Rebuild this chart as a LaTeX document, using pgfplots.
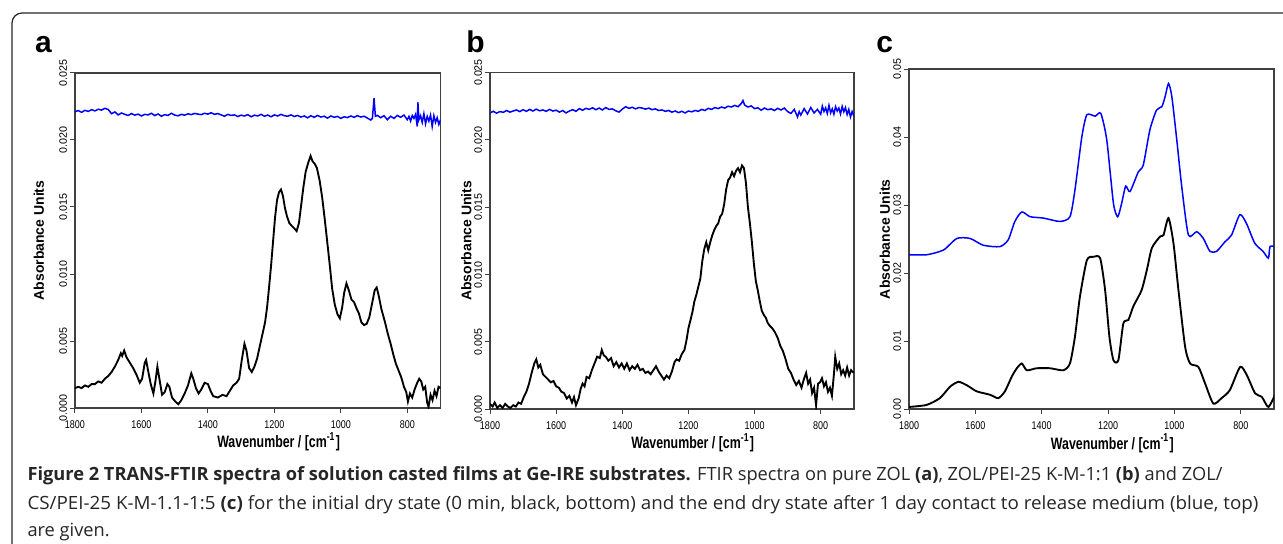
\documentclass[border=0pt]{standalone}
\usepackage{pgfplots}
\pgfplotsset{compat=1.18}
\usepackage{fontspec}
\setmainfont{Liberation Sans}
\newfontfamily\capfont{Open Sans}
\newfontfamily\capfontw[FakeStretch=1.03]{Open Sans}
\newfontfamily\hlab[FakeStretch=0.75]{Liberation Sans}
\newfontfamily\htick[FakeStretch=0.8]{Liberation Sans}

\pgfplotsset{
  spec/.style={
    scale only axis, anchor=south west,
    xmin=700, xmax=1800, x dir=reverse, ymin=0,
    axis line style={line width=0.65pt, black!75},
    tick style={black!75, line width=0.4pt},
    tick align=outside, major tick length=2pt,
    xtick pos=bottom, ytick pos=left,
    xtick={800,1000,1200,1400,1600,1800},
    scaled y ticks=false,
    /pgf/number format/1000 sep={},
    /pgf/number format/assume math mode=true,
    xticklabel style={font=\htick\fontsize{4.5}{5}\selectfont, anchor=base, yshift=-6pt},
    yticklabel style={font=\fontsize{4.3}{5}\selectfont, rotate=90, anchor=south, inner sep=1pt},
    xlabel={Wavenumber / [cm\textsuperscript{-1}]},
    ylabel={Absorbance Units},
    xlabel style={font=\hlab\bfseries\fontsize{6.6}{7}\selectfont, at={(axis description cs:0.557,-0.1)}, anchor=center},
    ylabel style={font=\bfseries\fontsize{5.6}{6}\selectfont, anchor=center},
    blueline/.style={blue, line width=0.6pt},
    blackline/.style={black, line width=0.75pt},
  }
}

\begin{document}
\begin{tikzpicture}
\clip (0,0) rectangle (513.2pt,217.2pt);
\draw[black!85, line width=0.5pt, rounded corners=4pt] (4.8pt,-5pt) -- (4.8pt,212pt) -- (520pt,212pt);

\node[anchor=base west, font=\bfseries\fontsize{12}{12}\selectfont] at (10.5pt,196pt) {a};
\node[anchor=base west, font=\bfseries\fontsize{12}{12}\selectfont] at (183pt,196pt) {b};
\node[anchor=base west, font=\bfseries\fontsize{12}{12}\selectfont] at (347pt,196pt) {c};

% panel a: pure ZOL
\begin{axis}[spec, at={(30pt,53.9pt)}, width=146.2pt, height=134.2pt, ymax=0.025,
  ytick={0,0.005,0.010,0.015,0.020,0.025},
  yticklabel style={/pgf/number format/.cd, fixed, fixed zerofill, precision=3},
  ylabel style={at={(axis description cs:-0.0985,0.5)}}]
\addplot[blueline] coordinates {
(1800,0.02210) (1790,0.02218) (1780,0.02205) (1770,0.02220) (1760,0.02212) (1750,0.02225)
(1740,0.02216) (1730,0.02228) (1720,0.02222) (1710,0.02235) (1700,0.02226) (1690,0.02195)
(1680,0.02208) (1670,0.02186) (1660,0.02200) (1650,0.02190) (1640,0.02182) (1630,0.02196)
(1620,0.02184) (1610,0.02192) (1600,0.02178) (1590,0.02190) (1580,0.02186) (1570,0.02198)
(1560,0.02181) (1550,0.02193) (1540,0.02176) (1530,0.02188) (1520,0.02182) (1510,0.02198)
(1500,0.02185) (1490,0.02179) (1480,0.02190) (1470,0.02184) (1460,0.02194) (1450,0.02188)
(1440,0.02197) (1430,0.02192) (1420,0.02188) (1410,0.02198) (1400,0.02192) (1390,0.02202)
(1380,0.02190) (1370,0.02196) (1360,0.02186) (1350,0.02176) (1340,0.02190) (1330,0.02182)
(1320,0.02186) (1310,0.02174) (1300,0.02184) (1290,0.02178) (1280,0.02188) (1270,0.02172)
(1260,0.02184) (1250,0.02178) (1240,0.02190) (1230,0.02176) (1220,0.02185) (1210,0.02172)
(1200,0.02186) (1190,0.02178) (1180,0.02190) (1170,0.02180) (1160,0.02176) (1150,0.02186)
(1140,0.02174) (1130,0.02182) (1120,0.02170) (1110,0.02178) (1100,0.02164) (1090,0.02180)
(1080,0.02168) (1070,0.02182) (1060,0.02170) (1050,0.02176) (1040,0.02162) (1030,0.02178)
(1020,0.02168) (1010,0.02175) (1000,0.02160) (990,0.02172) (980,0.02166) (970,0.02178)
(960,0.02168) (950,0.02180) (940,0.02170) (930,0.02176) (920,0.02162) (910,0.02148)
(905,0.02160) (900,0.02310) (896,0.02176) (890,0.02182) (880,0.02165) (870,0.02180)
(860,0.02150) (850,0.02176) (840,0.02160) (830,0.02182) (820,0.02168) (810,0.02185)
(800,0.02150) (795,0.02175) (790,0.02140) (785,0.02182) (780,0.02160) (775,0.02190)
(770,0.02100) (768,0.02280) (765,0.02150) (760,0.02180) (755,0.02130) (750,0.02195)
(745,0.02120) (740,0.02175) (735,0.02140) (730,0.02185) (725,0.02100) (720,0.02180)
(715,0.02130) (710,0.02165) (705,0.02115) (700,0.02150)
};
\addplot[blackline] coordinates {
(1800,0.0015) (1790,0.0016) (1780,0.0015) (1770,0.0017) (1760,0.0016) (1750,0.0018)
(1740,0.0018) (1730,0.0020) (1720,0.0019) (1710,0.0022) (1700,0.0024) (1690,0.0027)
(1680,0.0031) (1670,0.0036) (1662,0.0041) (1658,0.0039) (1652,0.0043) (1645,0.0038)
(1635,0.0034) (1625,0.0030) (1615,0.0025) (1605,0.0019) (1598,0.0022) (1590,0.0034)
(1586,0.0036) (1580,0.0028) (1572,0.0018) (1564,0.0011) (1558,0.0020) (1552,0.0031)
(1546,0.0022) (1538,0.0010) (1530,0.0012) (1522,0.0018) (1516,0.0016) (1508,0.0008)
(1498,0.0005) (1489,0.0003) (1480,0.0006) (1470,0.0011) (1460,0.0017) (1450,0.0026)
(1444,0.0022) (1436,0.0015) (1428,0.0011) (1420,0.0014) (1410,0.0019) (1400,0.0018)
(1392,0.0013) (1384,0.0009) (1370,0.0008) (1356,0.0010) (1344,0.0009) (1334,0.0013)
(1324,0.0017) (1314,0.0019) (1306,0.0022) (1298,0.0036) (1290,0.0048) (1284,0.0043)
(1276,0.0030) (1268,0.0027) (1260,0.0031) (1252,0.0037) (1244,0.0046) (1236,0.0055)
(1228,0.0064) (1222,0.0075) (1216,0.0090) (1210,0.0106) (1204,0.0124) (1198,0.0142)
(1192,0.0155) (1186,0.0161) (1180,0.0163) (1174,0.0158) (1168,0.0149) (1162,0.0143)
(1155,0.0138) (1148,0.0136) (1140,0.0134) (1133,0.0132) (1126,0.0138) (1120,0.0150)
(1113,0.0164) (1106,0.0176) (1098,0.0183) (1091,0.0188) (1085,0.0184) (1078,0.0182)
(1072,0.0179) (1064,0.0170) (1056,0.0157) (1048,0.0140) (1040,0.0122) (1033,0.0106)
(1026,0.0089) (1018,0.0077) (1010,0.0070) (1003,0.0067) (996,0.0075) (990,0.0086)
(983,0.0093) (976,0.0088) (968,0.0081) (960,0.0079) (952,0.0074) (946,0.0071)
(938,0.0064) (930,0.0062) (922,0.0063) (914,0.0068) (906,0.0078) (898,0.0088)
(892,0.0090) (886,0.0084) (878,0.0074) (868,0.0065) (858,0.0055) (850,0.0048)
(842,0.0040) (834,0.0033) (826,0.0028) (818,0.0023) (810,0.0016) (803,0.0012)
(798,0.0005) (792,0.0011) (785,0.0008) (778,0.0014) (770,0.0019) (764,0.0022)
(758,0.0020) (752,0.0014) (746,0.0016) (740,0.0004) (736,0.0001) (730,0.0010)
(724,0.0006) (718,0.0013) (712,0.0009) (706,0.0016) (700,0.0015)
};
\end{axis}

% panel b: ZOL/PEI-25 K-M-1:1
\begin{axis}[spec, at={(196pt,53.5pt)}, width=145.5pt, height=134.7pt, ymax=0.025,
  ytick={0,0.005,0.010,0.015,0.020,0.025},
  yticklabel style={/pgf/number format/.cd, fixed, fixed zerofill, precision=3},
  ylabel style={at={(axis description cs:-0.065,0.5)}}]
\addplot[blueline] coordinates {
(1800,0.02200) (1790,0.02212) (1780,0.02198) (1770,0.02210) (1760,0.02204) (1750,0.02218)
(1740,0.02206) (1730,0.02214) (1720,0.02222) (1710,0.02210) (1700,0.02224) (1690,0.02212)
(1680,0.02226) (1670,0.02214) (1660,0.02228) (1650,0.02216) (1640,0.02222) (1630,0.02212)
(1620,0.02226) (1610,0.02214) (1600,0.02220) (1590,0.02206) (1580,0.02218) (1570,0.02200)
(1560,0.02214) (1550,0.02224) (1540,0.02212) (1530,0.02232) (1520,0.02220) (1510,0.02234)
(1500,0.02226) (1490,0.02238) (1480,0.02224) (1470,0.02236) (1460,0.02222) (1450,0.02240)
(1440,0.02226) (1430,0.02230) (1420,0.02216) (1410,0.02206) (1400,0.02228) (1390,0.02246)
(1380,0.02234) (1370,0.02242) (1360,0.02230) (1350,0.02240) (1340,0.02236) (1330,0.02228)
(1320,0.02236) (1310,0.02224) (1300,0.02230) (1290,0.02218) (1280,0.02222) (1270,0.02212)
(1260,0.02218) (1250,0.02206) (1240,0.02214) (1230,0.02202) (1220,0.02212) (1210,0.02200)
(1200,0.02214) (1190,0.02208) (1180,0.02218) (1170,0.02212) (1160,0.02226) (1150,0.02218)
(1140,0.02234) (1130,0.02226) (1120,0.02240) (1110,0.02232) (1100,0.02244) (1090,0.02236)
(1080,0.02250) (1070,0.02244) (1060,0.02256) (1050,0.02246) (1040,0.02270) (1035,0.02292)
(1030,0.02258) (1020,0.02244) (1010,0.02252) (1000,0.02232) (990,0.02238) (980,0.02220)
(970,0.02236) (960,0.02224) (950,0.02230) (940,0.02218) (930,0.02234) (920,0.02222)
(910,0.02236) (900,0.02210) (890,0.02196) (880,0.02226) (870,0.02170) (865,0.02210)
(860,0.02184) (850,0.02232) (840,0.02192) (830,0.02240) (820,0.02200) (810,0.02226)
(800,0.02190) (795,0.02250) (790,0.02210) (785,0.02238) (780,0.02196) (775,0.02256)
(770,0.02200) (765,0.02230) (760,0.02190) (755,0.02246) (750,0.02214) (745,0.02236)
(740,0.02192) (735,0.02248) (730,0.02208) (725,0.02240) (720,0.02188) (715,0.02226)
(710,0.02170) (705,0.02210) (700,0.02180)
};
\addplot[blackline] coordinates {
(1800,0.0004) (1792,0.0002) (1786,0.0005) (1778,0.0001) (1770,0.0003) (1762,0.0001)
(1754,0.0004) (1746,0.0002) (1738,0.0001) (1730,0.0003) (1722,0.0002) (1714,0.0005)
(1706,0.0004) (1698,0.0009) (1690,0.0013) (1682,0.0019) (1674,0.0027) (1666,0.0034)
(1660,0.0037) (1654,0.0031) (1648,0.0033) (1640,0.0026) (1632,0.0024) (1624,0.0022)
(1616,0.0020) (1608,0.0021) (1600,0.0017) (1592,0.0016) (1584,0.0013) (1576,0.0012)
(1568,0.0008) (1560,0.0010) (1552,0.0005) (1546,0.0009) (1540,0.0003) (1532,0.0008)
(1526,0.0015) (1520,0.0019) (1514,0.0017) (1508,0.0024) (1500,0.0023) (1492,0.0029)
(1484,0.0034) (1476,0.0039) (1468,0.0038) (1462,0.0044) (1456,0.0040) (1450,0.0039)
(1442,0.0036) (1434,0.0038) (1426,0.0032) (1418,0.0035) (1410,0.0031) (1402,0.0034)
(1394,0.0030) (1386,0.0034) (1378,0.0029) (1370,0.0032) (1362,0.0030) (1354,0.0033)
(1346,0.0029) (1338,0.0030) (1330,0.0027) (1322,0.0028) (1314,0.0026) (1306,0.0029)
(1298,0.0032) (1290,0.0028) (1282,0.0025) (1274,0.0022) (1266,0.0025) (1258,0.0023)
(1250,0.0028) (1242,0.0035) (1236,0.0037) (1228,0.0036) (1220,0.0041) (1212,0.0044)
(1206,0.0051) (1200,0.0060) (1194,0.0066) (1188,0.0072) (1182,0.0080) (1176,0.0085)
(1170,0.0091) (1164,0.0097) (1158,0.0110) (1152,0.0119) (1146,0.0124) (1140,0.0118)
(1134,0.0124) (1128,0.0129) (1122,0.0133) (1116,0.0136) (1110,0.0138) (1104,0.0143)
(1098,0.0145) (1092,0.0152) (1086,0.0163) (1080,0.0170) (1074,0.0172) (1068,0.0176)
(1062,0.0173) (1056,0.0177) (1050,0.0179) (1044,0.0176) (1038,0.0181) (1032,0.0179)
(1026,0.0168) (1020,0.0150) (1014,0.0138) (1008,0.0124) (1002,0.0108) (996,0.0095)
(990,0.0088) (984,0.0080) (978,0.0073) (972,0.0070) (966,0.0068) (960,0.0064)
(954,0.0062) (946,0.0060) (938,0.0057) (930,0.0053) (922,0.0047) (914,0.0043)
(906,0.0037) (898,0.0030) (890,0.0027) (882,0.0022) (874,0.0018) (866,0.0021)
(858,0.0016) (850,0.0023) (844,0.0027) (838,0.0019) (832,0.0022) (826,0.0012)
(820,0.0016) (814,0.0003) (808,0.0019) (802,0.0020) (796,0.0023) (790,0.0017)
(784,0.0020) (778,0.0013) (772,0.0016) (766,0.0010) (760,0.0026) (756,0.0039)
(750,0.0030) (744,0.0034) (738,0.0026) (732,0.0029) (726,0.0025) (720,0.0031)
(714,0.0025) (708,0.0029) (700,0.0027)
};
\end{axis}

% panel c: ZOL/CS/PEI-25 K-M-1.1-1:5
\begin{axis}[spec, at={(363.6pt,53.6pt)}, width=146pt, height=135.9pt, ymax=0.05,
  ytick={0,0.01,0.02,0.03,0.04,0.05},
  yticklabel style={/pgf/number format/.cd, fixed, fixed zerofill, precision=2},
  ylabel style={at={(axis description cs:-0.066,0.5)}}]
\addplot[blueline, smooth, tension=0.4] coordinates {
(1800,0.0227) (1747,0.0227) (1696,0.0234) (1656,0.0251) (1616,0.0251) (1576,0.0241)
(1526,0.0239) (1501,0.0249) (1481,0.0276) (1460,0.0290) (1435,0.0283) (1395,0.0281)
(1345,0.0276) (1315,0.0283) (1300,0.0322) (1279,0.0401) (1264,0.0433) (1239,0.0431)
(1222,0.0435) (1204,0.0396) (1184,0.0303) (1171,0.0283) (1159,0.0303) (1147,0.0328)
(1134,0.0320) (1109,0.0349) (1094,0.0359) (1074,0.0411) (1054,0.0440) (1038,0.0445)
(1028,0.0460) (1018,0.0479) (1008,0.0460) (993,0.0396) (978,0.0327) (958,0.0256)
(933,0.0261) (913,0.0251) (893,0.0232) (873,0.0232) (848,0.0246) (828,0.0256)
(803,0.0286) (783,0.0273) (758,0.0244) (733,0.0232) (717,0.0222) (712,0.0239) (698,0.0239)
};
\addplot[blackline, smooth, tension=0.4] coordinates {
(1800,0.0003) (1747,0.0006) (1707,0.0016) (1676,0.0033) (1651,0.0040) (1626,0.0035)
(1596,0.0026) (1556,0.0021) (1531,0.0016) (1511,0.0026) (1490,0.0048) (1475,0.0060)
(1460,0.0067) (1445,0.0057) (1415,0.0060) (1375,0.0060) (1335,0.0057) (1315,0.0067)
(1300,0.0106) (1285,0.0165) (1264,0.0219) (1244,0.0224) (1224,0.0222) (1209,0.0175)
(1196,0.0106) (1184,0.0072) (1169,0.0072) (1154,0.0126) (1139,0.0131) (1124,0.0151)
(1099,0.0175) (1083,0.0205) (1068,0.0237) (1043,0.0254) (1033,0.0256) (1018,0.0281)
(1003,0.0244) (988,0.0175) (968,0.0092) (953,0.0067) (928,0.0062) (908,0.0038)
(883,0.0008) (858,0.0016) (833,0.0028) (802,0.0062) (782,0.0050) (757,0.0023)
(737,0.0018) (717,0.0003) (697,0.0021)
};
\end{axis}

\node[anchor=base west, font=\capfont\fontsize{7.3}{8}\selectfont, text=black!85, inner sep=0pt] at (10.8pt,25.2pt)
 {\textbf{Figure 2 TRANS-FTIR spectra of solution casted films at Ge-IRE substrates.} FTIR spectra on pure ZOL \textbf{(a)}, ZOL/PEI-25 K-M-1:1 \textbf{(b)} and ZOL/};
\node[anchor=base west, font=\capfontw\fontsize{7.3}{8}\selectfont, text=black!85, inner sep=0pt] at (10.8pt,13.6pt)
 {CS/PEI-25 K-M-1.1-1:5 \textbf{(c)} for the initial dry state (0 min, black, bottom) and the end dry state after 1 day contact to release medium (blue, top)};
\node[anchor=base west, font=\capfont\fontsize{7.3}{8}\selectfont, text=black!85, inner sep=0pt] at (10.8pt,2.8pt)
 {are given.};
\end{tikzpicture}
\end{document}
